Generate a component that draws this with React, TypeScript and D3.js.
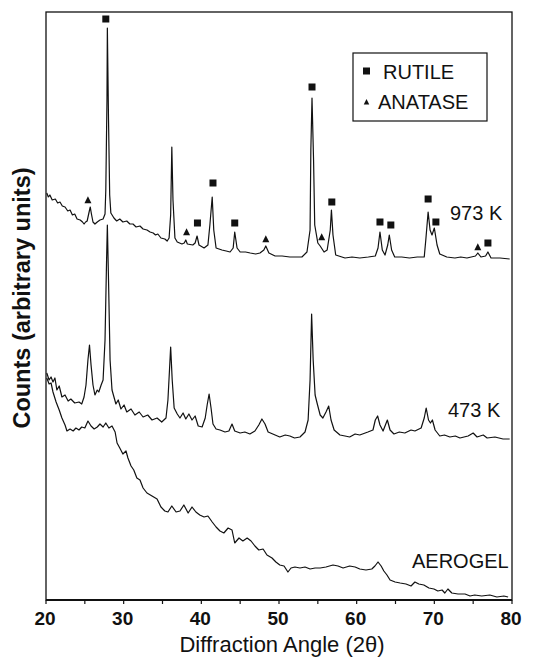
import React from "react";
import * as d3 from "d3";

// ---- data (diffraction angle in degrees 2θ, counts in arbitrary units) ----
const xTicks = [20, 25, 30, 35, 40, 45, 50, 55, 60, 65, 70, 75, 80];
const xTickLabels = [20, 30, 40, 50, 60, 70, 80];

const series973: [number, number][] = [
  [20.1, 407], [20.3, 403], [20.5, 405], [20.8, 400], [21.2, 401], [21.5, 397], [21.8, 398],
  [22.1, 394], [22.45, 393], [22.8, 389], [23.1, 390], [23.4, 385], [23.7, 386], [24.0, 381],
  [24.4, 380], [24.7, 378], [24.9, 376], [25.1, 378], [25.3, 379], [25.55, 388], [25.7, 393],
  [25.85, 386], [26.05, 378], [26.3, 376], [26.6, 378], [26.95, 380], [27.35, 381], [27.6, 386],
  [27.7, 410], [27.85, 500], [27.9, 572], [28.05, 480], [28.2, 405], [28.35, 387], [28.75, 382],
  [29.1, 379], [29.5, 381], [29.9, 378], [30.4, 379], [30.8, 376], [31.2, 376], [31.6, 373],
  [32.1, 374], [32.5, 371], [33.0, 370], [33.4, 368], [33.8, 367], [34.1, 365], [34.4, 366],
  [34.8, 362], [35.3, 361], [35.6, 359], [35.85, 362], [36.05, 385], [36.2, 453], [36.35, 400],
  [36.6, 362], [36.9, 358], [37.5, 356], [37.8, 357], [38.0, 360], [38.2, 356], [38.9, 355],
  [39.2, 357], [39.45, 364], [39.7, 355], [40.35, 352], [40.85, 355], [41.1, 375], [41.4, 403],
  [41.6, 370], [41.9, 352], [42.65, 350], [43.2, 349], [43.7, 348], [44.1, 352], [44.3, 368],
  [44.6, 352], [45.0, 348], [45.7, 348], [46.3, 347], [47.0, 346], [47.55, 347], [48.05, 350],
  [48.3, 354], [48.7, 347], [49.5, 344], [50.4, 344], [51.4, 343], [52.2, 343], [52.95, 343],
  [53.6, 348], [54.0, 370], [54.1, 450], [54.25, 502], [54.45, 440], [54.6, 375], [55.0, 357],
  [55.3, 354], [55.8, 348], [56.2, 350], [56.6, 370], [56.75, 390], [56.95, 365], [57.3, 345],
  [58.5, 342], [59.4, 343], [60.4, 342], [61.5, 343], [62.4, 344], [62.75, 352], [63.0, 368],
  [63.3, 350], [63.65, 345], [64.0, 355], [64.2, 365], [64.5, 350], [64.9, 343], [65.8, 343],
  [66.8, 342], [67.8, 343], [68.7, 343], [68.9, 360], [69.2, 388], [69.45, 370], [69.7, 365],
  [70.0, 372], [70.35, 355], [70.7, 346], [71.6, 343], [72.65, 342], [73.4, 343], [74.2, 342],
  [75.3, 344], [75.6, 347], [76.0, 343], [76.6, 344], [76.9, 348], [77.3, 342], [78.45, 342],
  [79.7, 341],
];

const series473: [number, number][] = [
  [20.1, 227], [20.4, 220], [20.65, 223], [20.9, 218], [21.15, 222], [21.4, 210], [21.7, 214],
  [22.05, 203], [22.45, 205], [22.85, 199], [23.2, 201], [23.7, 197], [24.25, 198], [24.6, 196],
  [24.9, 203], [25.15, 215], [25.4, 240], [25.6, 255], [25.8, 235], [26.05, 215], [26.3, 205],
  [26.6, 210], [26.8, 208], [27.1, 215], [27.35, 220], [27.6, 260], [27.8, 340], [27.9, 375],
  [28.05, 320], [28.25, 240], [28.5, 210], [28.75, 203], [29.0, 196], [29.3, 200], [29.65, 191],
  [30.05, 195], [30.4, 188], [30.95, 191], [31.45, 185], [32.0, 188], [32.5, 183], [33.1, 185],
  [33.65, 180], [34.3, 182], [34.9, 178], [35.45, 182], [35.7, 200], [35.9, 230], [36.05, 253],
  [36.25, 220], [36.5, 192], [36.9, 186], [37.25, 182], [37.65, 187], [38.0, 181], [38.4, 186],
  [38.8, 180], [39.2, 184], [39.6, 174], [40.1, 173], [40.5, 182], [40.75, 195], [41.0, 206],
  [41.25, 192], [41.5, 176], [41.9, 171], [42.4, 170], [43.05, 168], [43.55, 169], [43.95, 176],
  [44.3, 169], [45.0, 167], [45.6, 168], [46.25, 166], [46.9, 169], [47.4, 175], [47.8, 181],
  [48.2, 176], [48.6, 168], [49.2, 166], [50.1, 163], [50.8, 165], [51.4, 164], [52.0, 162],
  [52.7, 163], [53.35, 168], [53.75, 180], [54.0, 220], [54.2, 286], [54.4, 240], [54.65, 205],
  [54.9, 197], [55.3, 185], [55.65, 182], [56.05, 188], [56.4, 194], [56.7, 180], [57.1, 170],
  [57.85, 165], [58.5, 164], [59.1, 163], [59.8, 166], [60.4, 165], [61.45, 168], [62.1, 170],
  [62.4, 180], [62.7, 184], [63.0, 175], [63.4, 169], [63.7, 175], [63.95, 180], [64.3, 170],
  [64.8, 166], [65.5, 168], [66.2, 167], [67.0, 170], [67.5, 169], [68.3, 172], [68.7, 182],
  [68.95, 192], [69.25, 180], [69.5, 177], [69.75, 180], [70.1, 170], [70.7, 164], [71.3, 165],
  [72.0, 163], [72.7, 164], [73.3, 162], [74.35, 164], [75.0, 167], [75.5, 163], [76.3, 165],
  [76.8, 162], [77.8, 163], [78.85, 161], [79.7, 161],
];

const seriesAerogel: [number, number][] = [
  [20.1, 222], [20.4, 216], [20.65, 217], [20.9, 208], [21.3, 198], [21.7, 190], [22.05, 182],
  [22.45, 175], [22.7, 169], [23.1, 171], [23.5, 169], [23.85, 172], [24.25, 170], [24.6, 173],
  [25.0, 172], [25.4, 179], [25.8, 174], [26.2, 171], [26.6, 173], [26.95, 176], [27.35, 173],
  [27.7, 177], [28.1, 172], [28.5, 174], [28.9, 168], [29.15, 157], [29.5, 152], [29.9, 146],
  [30.3, 149], [30.55, 142], [30.95, 134], [31.3, 130], [31.7, 122], [32.1, 120], [32.5, 112],
  [33.0, 107], [33.65, 104], [34.3, 101], [34.8, 93], [35.3, 89], [35.7, 88], [36.2, 94],
  [36.75, 88], [37.25, 89], [37.75, 95], [38.3, 87], [38.8, 93], [39.3, 88], [39.8, 85],
  [40.35, 83], [40.85, 84], [41.4, 78], [41.9, 73], [42.4, 69], [42.9, 67], [43.45, 72],
  [43.95, 70], [44.3, 57], [44.85, 62], [45.35, 59], [45.9, 62], [46.4, 59], [46.9, 54],
  [47.4, 50], [47.95, 51], [48.45, 45], [49.1, 42], [49.6, 38], [50.1, 35], [50.65, 34],
  [51.15, 28], [51.55, 32], [52.05, 33], [52.7, 32], [53.35, 33], [54.0, 31], [54.65, 32],
  [55.3, 32], [56.05, 33], [56.95, 35], [57.6, 34], [58.25, 32], [59.1, 34], [59.8, 33],
  [60.4, 31], [61.2, 30], [61.95, 31], [62.35, 34], [62.75, 38], [63.15, 34], [63.5, 29],
  [63.9, 25], [64.3, 20], [64.95, 18], [65.6, 17], [66.35, 16], [67.0, 14], [67.5, 18],
  [68.0, 16], [68.65, 15], [69.3, 12], [69.95, 11], [70.45, 9], [71.0, 10], [71.35, 7],
  [71.75, 11], [72.25, 7], [73.05, 6], [73.95, 6], [74.6, 4], [75.2, 5], [76.1, 4],
  [77.15, 5], [78.05, 3], [78.95, 4], [79.5, 3],
];

const rutileMarkers: [number, number][] = [
  [27.7, 581], [39.5, 377], [41.5, 417], [44.3, 377], [54.25, 513], [56.8, 398],
  [63.0, 378], [64.4, 375], [69.2, 401], [70.2, 378], [76.9, 357],
];
const anataseMarkers: [number, number][] = [
  [25.4, 400], [38.1, 368], [48.3, 361], [55.5, 363], [75.6, 353],
];

const legendItems = ["RUTILE", "ANATASE"];
const traceLabels = ["973 K", "473 K", "AEROGEL"];

const W = 544;
const H = 662;
const left = 46, right = 512, top = 12, bottom = 600;
const FONT = "'Liberation Sans', Arial, Helvetica, sans-serif";
const INK = "#111";

export default function App() {
  const x = d3.scaleLinear().domain([20, 80]).range([left, right]);
  const y = d3.scaleLinear().domain([0, 588]).range([bottom, top]);
  const line = d3
    .line<[number, number]>()
    .x((d) => x(d[0]))
    .y((d) => y(d[1]));

  const sq = 7;
  const tri = (cx: number, cy: number, s: number) =>
    `M${cx},${cy - s * 0.55}L${cx + s / 2},${cy + s * 0.45}L${cx - s / 2},${cy + s * 0.45}Z`;

  return (
    <svg
      width={W}
      height={H}
      style={{ position: "absolute", left: 0, top: 0, background: "#fff" }}
      fontFamily={FONT}
    >
      <rect x={0} y={0} width={W} height={H} fill="#fff" />
      {/* frame */}
      <rect x={left} y={top} width={right - left} height={bottom - top} fill="none" stroke={INK} strokeWidth={1.3} />
      <line x1={left} x2={right} y1={bottom} y2={bottom} stroke={INK} strokeWidth={1.8} />
      {/* x ticks */}
      {xTicks.map((t) => (
        <line key={t} x1={x(t)} x2={x(t)} y1={bottom} y2={bottom + 4} stroke={INK} strokeWidth={1.2} />
      ))}
      {xTickLabels.map((t) => (
        <text key={t} x={x(t) - 1} y={625} textAnchor="middle" fontSize={19} fontWeight="bold" fill={INK}>
          {t}
        </text>
      ))}
      <text x={282} y={652} textAnchor="middle" fontSize={22} fill={INK}>
        Diffraction Angle (2θ)
      </text>
      <text
        transform="translate(30,298) rotate(-90)"
        textAnchor="middle"
        fontSize={23.5}
        fontWeight="bold"
        fill={INK}
      >
        Counts (arbitrary units)
      </text>

      {/* traces */}
      {[series973, series473, seriesAerogel].map((s, i) => (
        <path key={i} d={line(s) || ""} fill="none" stroke={INK} strokeWidth={1.2} strokeLinejoin="round" />
      ))}

      {/* phase markers */}
      {rutileMarkers.map((d, i) => (
        <rect key={"r" + i} x={x(d[0]) - sq / 2} y={y(d[1]) - sq / 2} width={sq} height={sq} fill={INK} />
      ))}
      {anataseMarkers.map((d, i) => (
        <path key={"a" + i} d={tri(x(d[0]), y(d[1]), 7)} fill={INK} />
      ))}

      {/* legend */}
      <rect x={353} y={53} width={134} height={68} fill="#fff" stroke={INK} strokeWidth={1.2} />
      <rect x={363} y={67.5} width={7} height={7} fill={INK} />
      <text x={383} y={79} fontSize={20} fill={INK}>{legendItems[0]}</text>
      <path d={tri(366.5, 102, 5.5)} fill={INK} />
      <text x={378} y={109} fontSize={20} fill={INK}>{legendItems[1]}</text>

      {/* trace labels */}
      <text x={450} y={220} fontSize={20} fill={INK}>{traceLabels[0]}</text>
      <text x={448} y={417} fontSize={20} fill={INK}>{traceLabels[1]}</text>
      <text x={412} y={568} fontSize={20} fill={INK}>{traceLabels[2]}</text>
    </svg>
  );
}
